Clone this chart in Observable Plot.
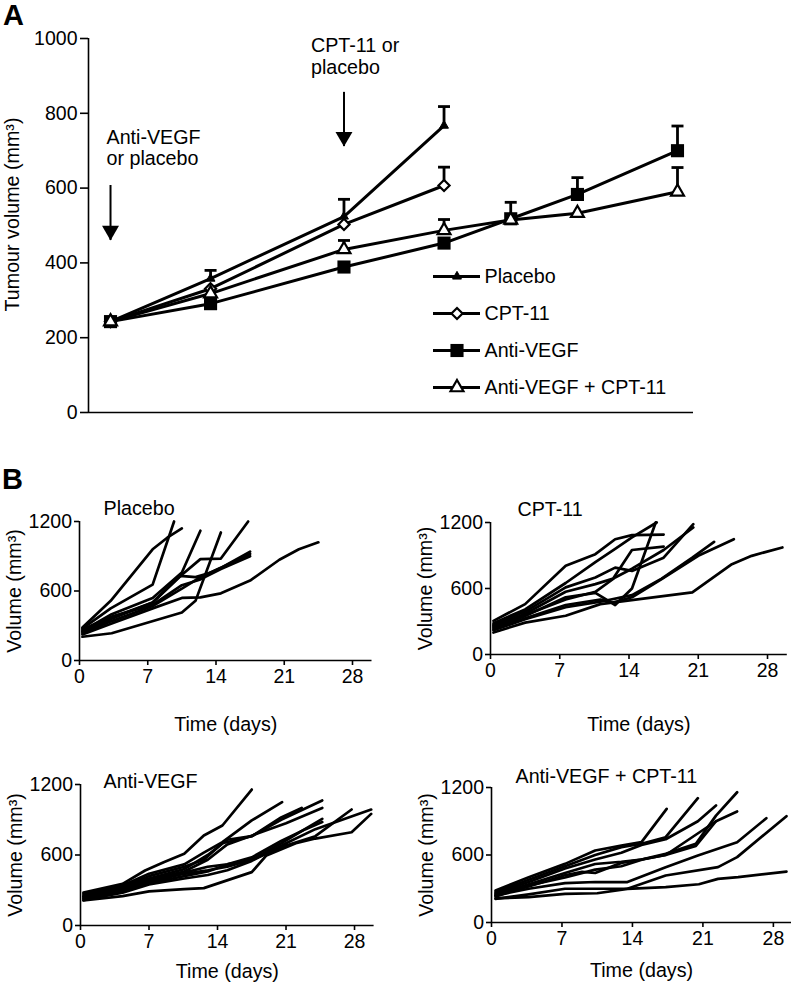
<!DOCTYPE html>
<html>
<head>
<meta charset="utf-8">
<script src="https://cdn.jsdelivr.net/npm/d3@7"></script>
<script src="https://cdn.jsdelivr.net/npm/@observablehq/plot@0.6"></script>
<style>
html, body { margin: 0; padding: 0; background: #fff; }
#root { position: relative; width: 793px; height: 984px; overflow: hidden; font-family: "Liberation Sans", Arial, Helvetica, sans-serif; color: #000; }
.letter { position: absolute; font-weight: bold; font-size: 29px; line-height: 1; }
</style>
</head>
<body>
<div id="root"></div>
<script>
// ---------------- Panel A data ----------------
const seriesNames = ["Placebo", "CPT-11", "Anti-VEGF", "Anti-VEGF + CPT-11"];
const daysA = [0, 3, 7, 10, 12, 14, 17];
const placebo = [243, 358, 524, 767];
const cpt11 = [243, 331, 503, 607];
const antiVegf = [243, 291, 389, 453, 518, 583, 700];
const combo = [243, 318, 436, 487, 515, 533, 590];
const placeboSem = [null, 22, 46, 51];
const cpt11Sem = [null, null, null, 49];
const antiVegfSem = [null, null, null, null, 44, 45, 66];
const comboSem = [null, null, 24, 29, null, null, 65];
const yTicksA = [0, 200, 400, 600, 800, 1000];

// treatment arrows (day, volume from -> to)
const treatmentDays = [0, 7];
const arrowFrom = [607, 856];
const arrowTo = [460, 711];
const treatmentLabels = ["Anti-VEGF\nor placebo", "CPT-11 or\nplacebo"];

// ---------------- Panel B data: individual mice [day, volume] ----------------
const placeboMice = [
  [[0.3,285],[3.2,515],[7.5,960],[9,1060],[10.5,1140]],
  [[0.3,275],[3.2,450],[7.5,655],[9.7,1200]],
  [[0.3,255],[3.3,400],[7.5,540],[10.5,760],[12.4,1120]],
  [[0.3,205],[3.3,235],[10.5,414],[11.9,515],[14.5,1105]],
  [[0.3,250],[3.3,370],[7.5,500],[10.5,740],[12.4,875],[14.5,880],[17.3,1200]],
  [[0.3,235],[3.3,340],[7.5,470],[10.5,620],[12.4,720],[14.5,800],[17.5,940]],
  [[0.3,245],[3.3,360],[7.5,500],[10.3,730],[11.9,720],[13.5,760],[17.5,920]],
  [[0.3,225],[3.3,320],[7.5,450],[10.5,540],[12.4,545],[14.5,580],[17.5,690],[20.5,870],[22.5,960],[24.5,1020]],
  [[0.3,265],[3.3,380],[7.5,480],[10.5,650],[12.4,700],[14.5,790],[17.5,900]]
];
const cpt11Mice = [
  [[0.3,306],[3.5,458],[7.6,806],[10.6,912],[12.6,1048],[14.3,1085],[17.5,1090]],
  [[0.3,285],[3.5,410],[7.6,650],[10.6,840],[12.6,960],[14.3,1064],[16.8,1200]],
  [[0.3,270],[3.5,390],[7.6,610],[10.6,700],[12.6,790],[14.3,760],[17.5,880],[20.5,1185]],
  [[0.3,250],[3.5,370],[7.6,570],[10.6,640],[12.4,690],[14.3,950],[17.5,980]],
  [[0.3,240],[3.5,350],[7.6,520],[10.6,560],[12.6,450],[14.3,600],[16.7,1200]],
  [[0.3,260],[3.5,360],[7.6,500],[10.6,570],[12.6,700],[14.3,780],[17.5,950],[20.5,1155]],
  [[0.3,230],[3.5,330],[7.6,450],[11.1,500],[12.3,470],[14.3,520],[17.3,685],[21,897],[24.6,1048]],
  [[0.3,220],[3.5,320],[7.6,430],[11.1,480],[14.3,540],[17.3,690],[20.4,880],[22.6,1024]],
  [[0.3,200],[3.5,290],[7.6,352],[11.1,458],[20.4,564],[24.4,821],[26.4,897],[29.5,973]]
];
const antiVegfMice = [
  [[0.3,280],[4.3,355],[6.6,468],[8.5,539],[10.6,610],[12.6,766],[14.5,851],[17.5,1157]],
  [[0.3,270],[4.3,340],[7,440],[10.6,520],[12.6,620],[14.5,709],[17.5,894],[20.6,1050]],
  [[0.3,260],[4.3,330],[7,420],[10.6,500],[12.6,560],[14.5,700],[17.5,760],[20.5,920],[22.6,1001]],
  [[0.3,250],[4.3,320],[7,400],[10.6,480],[13,600],[15,730],[17.5,760],[20.5,900],[24.7,1064]],
  [[0.3,240],[4.3,310],[7,390],[10.6,460],[13,560],[15,690],[18,780],[21,870],[24.7,1001]],
  [[0.3,230],[4.3,300],[7,370],[10.6,440],[13,470],[15,500],[17.5,560],[20.5,700],[24.7,908]],
  [[0.3,225],[4.3,290],[7,360],[10.6,420],[13,460],[15,520],[17.5,560],[21,680],[24,760],[27.7,987]],
  [[0.3,215],[4.3,280],[7,350],[10.6,400],[13,430],[15,470],[17.5,550],[21,700],[24,820],[29.7,987]],
  [[0.3,213],[4.3,250],[7,290],[10.6,310],[12.6,318],[17.5,454],[19,596],[22,700],[24,740],[27.7,794],[29.7,950]],
  [[0.3,245],[4.3,310],[7,380],[10.6,450],[13,500],[15,520],[17.5,580],[20.5,720],[23,820],[24.7,880]]
];
const comboMice = [
  [[0.4,284],[3.7,403],[7.3,521],[10.3,640],[12.9,684],[14.9,714],[17.4,1010]],
  [[0.4,270],[3.7,380],[7.3,500],[10.3,600],[12.9,670],[14.9,700],[17.3,758],[20.5,1105]],
  [[0.4,260],[3.7,360],[7.3,480],[10.3,560],[12.9,620],[14.9,690],[17.3,740],[20.5,900],[22.3,1040]],
  [[0.4,250],[3.7,340],[7.3,440],[10.3,520],[12.9,540],[14.9,560],[17.3,610],[20.3,700],[22.3,950],[24.4,1158]],
  [[0.4,240],[3.7,320],[7.3,420],[9,450],[10.3,440],[12.9,530],[14.9,560],[17.3,600],[20.3,780],[22.3,900],[24.4,987]],
  [[0.4,240],[3.7,300],[7.3,350],[10.3,360],[13.5,359],[17.3,492],[20.5,596],[24.4,714],[27.3,927]],
  [[0.4,210],[3.7,250],[7.3,300],[13.5,300],[17.3,418],[22.5,492],[24.4,581],[29.3,945]],
  [[0.4,215],[3.7,225],[7.3,255],[10.5,260],[13.5,299],[17.3,314],[20.6,340],[22.5,388],[24.5,403],[29.3,453]],
  [[0.4,230],[3.7,330],[7.3,400],[10.3,470],[12.9,500],[15,560],[17.3,600],[20.3,680],[22.3,900]]
];
const xTicksB = [0, 7, 14, 21, 28];
const yTicksB = [0, 600, 1200];

// ---------------- helpers ----------------
const FONT = '"Liberation Sans", Arial, Helvetica, sans-serif';
const TICK_FS = 19.5, TEXT_FS = 19.7;
const root = document.getElementById("root");
function place(el, left, top) {
  el.style.position = "absolute";
  el.style.left = left + "px";
  el.style.top = top + "px";
  root.appendChild(el);
}
const plain = d => String(d);
const baseStyle = { fontFamily: FONT, fontSize: "19.5px", background: "transparent", color: "black", overflow: "visible" };
const capSymbol = { draw(ctx, size) { const r = Math.sqrt(size / Math.PI); ctx.moveTo(-r, 0); ctx.lineTo(r, 0); } };

// marker styles per series
const markerStyle = {
  "Placebo": { symbol: "triangle", fill: "black", stroke: "black", strokeWidth: 1, r: 3.3 },
  "CPT-11": { symbol: "diamond2", fill: "white", stroke: "black", strokeWidth: 2.2, r: 5 },
  "Anti-VEGF": { symbol: "square", fill: "black", stroke: "none", strokeWidth: 0, r: 7.4 },
  "Anti-VEGF + CPT-11": { symbol: "triangle", fill: "white", stroke: "black", strokeWidth: 2.2, r: 4.8 }
};

// ---------------- Panel A ----------------
const seriesValues = [placebo, cpt11, antiVegf, combo];
const seriesSem = [placeboSem, cpt11Sem, antiVegfSem, comboSem];
const rowsA = seriesNames.flatMap((name, s) => seriesValues[s].map((v, i) => ({
  series: name, day: daysA[i], v, top: seriesSem[s][i] == null ? null : v + seriesSem[s][i]
})));
const errRows = rowsA.filter(d => d.top != null);
const arrowRows = treatmentDays.map((day, i) => ({ day, from: arrowFrom[i], to: arrowTo[i], label: treatmentLabels[i] }));
const labelOffsets = [{ dx: -4, dy: -57 }, { dx: -33, dy: -55 }];

const xDomA = [-0.66, 17.48];
const panelA = Plot.plot({
  width: 793, height: 440,
  marginLeft: 88, marginRight: 100, marginTop: 38, marginBottom: 28,
  x: { domain: xDomA, axis: null },
  y: { domain: [0, 1000] },
  style: baseStyle,
  marks: [
    Plot.ruleY([0], { strokeWidth: 1.6 }),
    Plot.ruleX([xDomA[0]], { strokeWidth: 1.6 }),
    Plot.axisY({ ticks: yTicksA, tickFormat: plain, tickSize: 8, tickPadding: 3, strokeWidth: 1.6, label: null, fontSize: TICK_FS }),
    Plot.text(["Tumour volume (mm³)"], { text: d => d, frameAnchor: "left", textAnchor: "middle", rotate: -90, dx: -75.5, dy: -11, fontSize: TEXT_FS }),
    // error bars
    Plot.ruleX(errRows, { x: "day", y1: "v", y2: "top", strokeWidth: 2.8 }),
    Plot.dot(errRows, { x: "day", y: "top", symbol: capSymbol, r: 6, fill: "none", stroke: "black", strokeWidth: 2.8 }),
    // lines
    Plot.line(rowsA, { x: "day", y: "v", z: "series", stroke: "black", strokeWidth: 3 }),
    // markers
    ...seriesNames.map(name => Plot.dot(rowsA.filter(d => d.series === name), {
      x: "day", y: "v", ...markerStyle[name]
    })),
    // treatment arrows
    Plot.ruleX(arrowRows, { x: "day", y1: "from", y2: "to", strokeWidth: 2 }),
    Plot.dot(arrowRows, { x: "day", y: "to", symbol: "triangle", rotate: 180, r: 6.3, fill: "black", dy: -9.8 }),
    ...arrowRows.map((d, i) => Plot.text([d], {
      x: "day", y: "from", text: "label", textAnchor: "start", lineAnchor: "top",
      lineHeight: 1.08, fontSize: TEXT_FS, dx: labelOffsets[i].dx, dy: labelOffsets[i].dy
    }))
  ]
});
place(panelA, 0, 0);

// legend for panel A
const legend = Plot.plot({
  width: 360, height: 153,
  marginLeft: 0, marginRight: 313, marginTop: 20, marginBottom: 20,
  x: { domain: [0, 1], axis: null },
  y: { type: "point", domain: seriesNames, padding: 0, axis: null },
  style: baseStyle,
  marks: [
    Plot.ruleY(seriesNames, { y: d => d, stroke: "black", strokeWidth: 3 }),
    ...seriesNames.map(name => Plot.dot([name], { y: d => d, frameAnchor: "middle", ...markerStyle[name] })),
    Plot.text(seriesNames, { y: d => d, text: d => d, frameAnchor: "right", dx: 4, textAnchor: "start", fontSize: TEXT_FS })
  ]
});
place(legend, 433, 255);

// ---------------- Panel B ----------------
const bPanels = [
  { title: "Placebo", mice: placeboMice, left: 0, top: 470, width: 400, height: 270, ml: 79, mr: 28.5, mt: 51, mb: 80, xMax: 30, tdx: 24, tdy: -12.5, timeDy: 64 },
  { title: "CPT-11", mice: cpt11Mice, left: 400, top: 470, width: 393, height: 270, ml: 90, mr: 6.2, mt: 52, mb: 86, xMax: 30, tdx: 27, tdy: -13, timeDy: 70 },
  { title: "Anti-VEGF", mice: antiVegfMice, left: 0, top: 740, width: 400, height: 244, ml: 80, mr: 26.4, mt: 44, mb: 59, xMax: 30, tdx: 23, tdy: -2.5, timeDy: 46 },
  { title: "Anti-VEGF + CPT-11", mice: comboMice, left: 400, top: 740, width: 393, height: 244, ml: 91, mr: 2, mt: 47, mb: 62, xMax: 29.8, tdx: 24, tdy: -10.5, timeDy: 48 }
];

for (const p of bPanels) {
  const rows = p.mice.flatMap((m, id) => m.map(([day, v]) => ({ id, day, v })));
  const svg = Plot.plot({
    width: p.width, height: p.height,
    marginLeft: p.ml, marginRight: p.mr, marginTop: p.mt, marginBottom: p.mb,
    x: { domain: [0, p.xMax] },
    y: { domain: [0, 1200] },
    style: baseStyle,
    marks: [
      Plot.ruleX([0], { strokeWidth: 1.6 }),
      Plot.ruleY([0], { strokeWidth: 1.6 }),
      Plot.axisX({ ticks: xTicksB, tickFormat: plain, tickSize: 5, tickPadding: 4, strokeWidth: 1.6, label: null, fontSize: TICK_FS }),
      Plot.axisY({ ticks: yTicksB, tickFormat: plain, tickSize: 5, tickPadding: 2.5, strokeWidth: 1.6, label: null, fontSize: TICK_FS }),
      Plot.line(rows, { x: "day", y: "v", z: "id", stroke: "black", strokeWidth: 2.7 }),
      Plot.text([p.title], { text: d => d, frameAnchor: "top-left", dx: p.tdx, dy: p.tdy, textAnchor: "start", lineAnchor: "middle", fontSize: TEXT_FS }),
      Plot.text(["Volume (mm³)"], { text: d => d, frameAnchor: "left", textAnchor: "middle", rotate: -90, dx: -65, fontSize: TEXT_FS }),
      Plot.text(["Time (days)"], { text: d => d, frameAnchor: "bottom", dy: p.timeDy, lineAnchor: "middle", fontSize: TEXT_FS })
    ]
  });
  place(svg, p.left, p.top);
}

// panel letters
const la = document.createElement("div"); la.className = "letter"; la.textContent = "A"; place(la, 3, 1);
const lb = document.createElement("div"); lb.className = "letter"; lb.textContent = "B"; place(lb, 2, 465);
</script>
</body>
</html>
